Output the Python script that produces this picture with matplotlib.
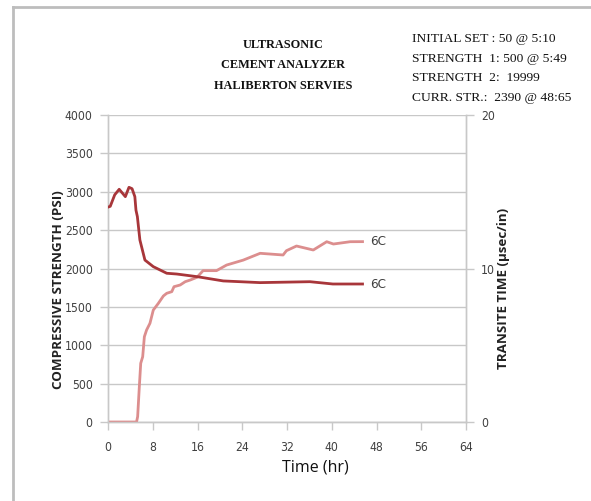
import os
import matplotlib
matplotlib.use("Agg")
import matplotlib.pyplot as plt
from matplotlib.lines import Line2D
from matplotlib import font_manager as fm

# Compressive strength (PSI) vs time (hr)
strength_t = [0, 2, 4, 5.1, 5.3, 5.6, 5.85, 6.2, 6.5, 6.9, 7.5, 8.1, 9.0, 9.9, 10.5,
              11.4, 11.8, 12.9, 13.8, 14.7, 15.9, 17.0, 19.4, 21.2, 24.2, 27.2,
              31.3, 31.9, 33.7, 36.7, 39.1, 40.3, 43.3, 45.5]
strength_psi = [0, 0, 0, 0, 70, 460, 765, 850, 1111, 1199, 1286, 1459, 1546, 1642, 1677,
                1698, 1763, 1785, 1828, 1850, 1885, 1972, 1972, 2045, 2110, 2198,
                2176, 2232, 2293, 2241, 2349, 2319, 2349, 2350]

# Transit time (usec/in) vs time (hr)
transit_t = [0, 0.4, 1.2, 2.0, 2.6, 3.1, 3.75, 4.3, 4.8, 5.0, 5.25, 5.7, 6.6, 8.1,
             10.5, 12.3, 15.9, 20.6, 27.2, 36.1, 40.2, 45.5]
transit_us = [14.0, 14.05, 14.8, 15.16, 14.9, 14.68, 15.29, 15.2, 14.68, 13.8, 13.38,
              11.86, 10.55, 10.12, 9.69, 9.64, 9.47, 9.19, 9.08, 9.14, 8.99, 8.99]

x_ticks = [0, 8, 16, 24, 32, 40, 48, 56, 64]
left_ticks = [0, 500, 1000, 1500, 2000, 2500, 3000, 3500, 4000]
right_ticks = [0, 10, 20]

title_lines = ["ULTRASONIC", "CEMENT ANALYZER", "HALIBERTON SERVIES"]
info_lines = ["INITIAL SET : 50 @ 5:10", "STRENGTH  1: 500 @ 5:49",
              "STRENGTH  2:  19999", "CURR. STR.:  2390 @ 48:65"]

dark_red = "#a8363a"
light_red = "#dc8e8e"
grid_gray = "#c8c8c8"
text_gray = "#404040"


def narrow_font(size):
    """Pick a narrow sans face if one is installed, else Liberation Sans."""
    files = {os.path.basename(f.fname): f.fname for f in fm.fontManager.ttflist}
    options = [("LiberationSansNarrow-Regular.ttf", 1.0),
               ("DejaVuSansCondensed.ttf", 0.92),
               ("OpenSans_Condensed-Regular.ttf", 1.0)]
    for name, scale in options:
        if name in files:
            return fm.FontProperties(fname=files[name], size=size * scale)
    return fm.FontProperties(family="Liberation Sans", size=size * 0.85)


tick_fp = narrow_font(9.5)
label6c_fp = narrow_font(10.5)

fig = plt.figure(figsize=(5.91, 5.01), dpi=100)
ax = fig.add_axes([108 / 591, 1 - 422 / 501, 358 / 591, 307 / 501])
ax2 = ax.twinx()

ax.plot(strength_t, strength_psi, color=light_red, lw=2.0, zorder=3)
ax2.plot(transit_t, transit_us, color=dark_red, lw=2.0, zorder=3)

ax.set_xlim(0, 64)
ax.set_ylim(0, 4000)
ax2.set_ylim(0, 20)
ax.set_xticks(x_ticks)
ax.set_yticks(left_ticks)
ax2.set_yticks(right_ticks)

ax.set_xticklabels([str(v) for v in x_ticks], fontproperties=tick_fp, color=text_gray)
ax.set_yticklabels([str(v) for v in left_ticks], fontproperties=tick_fp, color=text_gray)
ax2.set_yticklabels([str(v) for v in right_ticks], fontproperties=tick_fp, color=text_gray)

ax.grid(axis="y", color=grid_gray, lw=1.0)
ax.set_axisbelow(True)
for a in (ax, ax2):
    a.spines["top"].set_visible(False)
    for side in ("left", "right", "bottom"):
        a.spines[side].set_color(grid_gray)
        a.spines[side].set_linewidth(1.0)
    a.tick_params(color=grid_gray, length=6, width=1.0, pad=5)
ax.tick_params(axis="x", pad=8)

ax.set_xlabel("Time (hr)", family="Open Sans", fontsize=11.5, color="#111111",
              va="center")
ax.xaxis.set_label_coords((315 - 108) / 358, -(468 - 422) / 307)
ax.set_ylabel("COMPRESSIVE STRENGTH (PSI)", family="Open Sans", fontsize=9.6,
              fontweight="bold", color="#222222", va="center")
ax.yaxis.set_label_coords((59 - 108) / 358, (422 - 290) / 307)
ax2.set_ylabel("TRANSITE TIME (µsec/in)", family="Open Sans", fontsize=9.6,
               fontweight="bold", color="#222222", va="center")
ax2.yaxis.set_label_coords((503 - 108) / 358, (422 - 288) / 307)

# End-of-curve labels
ax.text(46.9, strength_psi[-1], "6C", fontproperties=label6c_fp,
        color=text_gray, va="center")
ax2.text(46.9, transit_us[-1], "6C", fontproperties=label6c_fp,
         color=text_gray, va="center")

# Header text
serif = ["Liberation Serif", "DejaVu Serif"]
for i, line in enumerate(title_lines):
    fig.text(283 / 591, 1 - (45 + 20.5 * i) / 501, line, family=serif, fontsize=8.8,
             fontweight="bold", ha="center", va="center", color="#111111")
for i, line in enumerate(info_lines):
    fig.text(412 / 591, 1 - (39 + 19.7 * i) / 501, line, family=serif, fontsize=9.7,
             ha="left", va="center", color="#111111")

# Outer frame: top and left edges
fig.add_artist(Line2D([13 / 591, 1], [1 - 7 / 501] * 2, transform=fig.transFigure,
                      color="#bdbdbd", lw=2))
fig.add_artist(Line2D([13 / 591] * 2, [0, 1 - 7 / 501], transform=fig.transFigure,
                      color="#bdbdbd", lw=2))

fig.savefig("out.png", dpi=100, facecolor="white")
